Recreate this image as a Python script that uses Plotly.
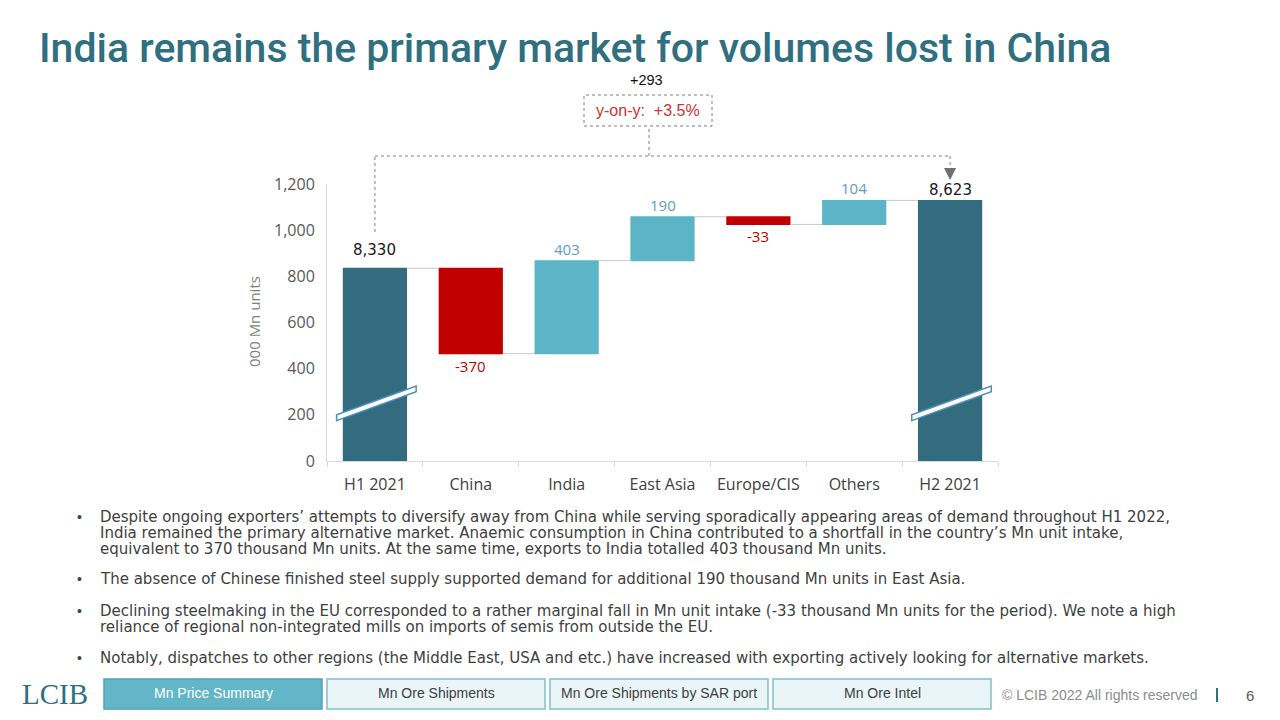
import plotly.graph_objects as go

# ---------------- data ----------------
categories = ["H1 2021", "China", "India", "East Asia", "Europe/CIS", "Others", "H2 2021"]
h1_total = 8330
h2_total = 8623
changes = [-370, 403, 190, -33, 104]   # China, India, East Asia, Europe/CIS, Others
axis_break = 7495                       # value hidden by the broken axis
yoy_change = "+293"
yoy_pct = "+3.5%"
y_ticks = [0, 200, 400, 600, 800, 1000, 1200]

bullets = [
    ["Despite ongoing exporters’ attempts to diversify away from China while serving sporadically appearing areas of demand throughout H1 2022,",
     "India remained the primary alternative market. Anaemic consumption in China contributed to a shortfall in the country’s Mn unit intake,",
     "equivalent to 370 thousand Mn units. At the same time, exports to India totalled 403 thousand Mn units."],
    ["The absence of Chinese finished steel supply supported demand for additional 190 thousand Mn units in East Asia."],
    ["Declining steelmaking in the EU corresponded to a rather marginal fall in Mn unit intake (-33 thousand Mn units for the period). We note a high",
     "reliance of regional non-integrated mills on imports of semis from outside the EU."],
    ["Notably, dispatches to other regions (the Middle East, USA and etc.) have increased with exporting actively looking for alternative markets."],
]
nav_buttons = ["Mn Price Summary", "Mn Ore Shipments", "Mn Ore Shipments by SAR port", "Mn Ore Intel"]

# ---------------- styles ----------------
W, H = 1280, 720
OFF = 8   # page margin of the html body
DARK = "#336C7E"
RED = "#C00000"
LIGHT = "#5BB5C6"
LABEL_BLUE = "#5E9CC4"
GREY = "#595959"
TEAL_TITLE = "#2F6F80"
FONT = "Open Sans"

def px(xp):
    return (xp - OFF) / W

def py(yp):
    return 1 - (yp - OFF) / H

start_plot = h1_total - axis_break
values = [start_plot] + changes + [0]
measures = ["absolute"] + ["relative"] * len(changes) + ["total"]

fig = go.Figure(go.Waterfall(
    x=categories, y=values, measure=measures,
    width=[0.67] * len(categories),
    increasing=dict(marker=dict(color=LIGHT)),
    decreasing=dict(marker=dict(color=RED)),
    totals=dict(marker=dict(color=DARK)),
    connector=dict(line=dict(color="#C8C8C8", width=1)),
    hoverinfo="skip", showlegend=False,
))

annotations = []
shapes = []

def ann(**kw):
    kw.setdefault("showarrow", False)
    kw.setdefault("xanchor", "center")
    kw.setdefault("yanchor", "middle")
    annotations.append(kw)

# value labels computed from the data
cum = start_plot
ann(x=0, y=cum, xref="x", yref="y", text=f"{h1_total:,}", yanchor="bottom", yshift=7,
    font=dict(family="DejaVu Sans", size=15, color="#1A1A1A"))
for i, c in enumerate(changes, start=1):
    top = cum + max(c, 0)
    bot = cum + min(c, 0)
    if c >= 0:
        ann(x=i, y=top, xref="x", yref="y", text=f"{c}", yanchor="bottom", yshift=0,
            font=dict(family=FONT, size=15, color=LABEL_BLUE))
    else:
        ann(x=i, y=bot, xref="x", yref="y", text=f"{c}", yanchor="top", yshift=0,
            font=dict(family=FONT, size=15, color=RED))
    cum += c
ann(x=6, y=cum, xref="x", yref="y", text=f"{h2_total:,}", yanchor="bottom", yshift=-1,
    font=dict(family="DejaVu Sans", size=15, color="#1A1A1A"))

# axis-break marks on the total bars
for idx in (0, 6):
    shapes.append(dict(type="path", xref="x", yref="y",
                       path=f"M {idx-0.40},{175} L {idx+0.43},{300} L {idx+0.43},{325} L {idx-0.40},{200} Z",
                       fillcolor="white", line=dict(color="#4F90B8", width=1.5), layer="above"))

# bracket with dotted lines
dot = dict(color="#7F7F7F", width=1, dash="dot")
shapes += [
    dict(type="line", xref="x", yref="paper", x0=0, x1=0, y0=py(232), y1=py(156), line=dot),
    dict(type="line", xref="x", yref="paper", x0=0, x1=6, y0=py(156), y1=py(156), line=dot),
    dict(type="line", xref="x", yref="paper", x0=6, x1=6, y0=py(156), y1=py(168), line=dot),
    dict(type="line", xref="paper", yref="paper", x0=px(649), x1=px(649), y0=py(156), y1=py(126), line=dot),
    dict(type="rect", xref="paper", yref="paper", x0=px(584), x1=px(712), y0=py(126), y1=py(95),
         line=dot, fillcolor="white"),
]
annotations.append(dict(x=6, y=py(180), xref="x", yref="paper", ax=0, ay=-12, text="", showarrow=True,
                        arrowhead=2, arrowsize=1.6, arrowwidth=1.5, arrowcolor="#6F6F6F"))
ann(x=px(648), y=py(111), xref="paper", yref="paper", text=f"y-on-y:  {yoy_pct}",
    font=dict(family="Liberation Sans", size=16, color="#D0312D"))
ann(x=px(646), y=py(80), xref="paper", yref="paper", text=yoy_change,
    font=dict(family="Liberation Sans", size=14.5, color="#111111"))

# title
ann(x=px(37), y=py(48), xref="paper", yref="paper", xanchor="left",
    text="India remains the primary market for volumes lost in China",
    font=dict(family="Roboto", size=41, color=TEAL_TITLE, weight=500))

# y-axis title
ann(x=px(254), y=py(322), xref="paper", yref="paper", textangle=-90,
    text="000 Mn units", font=dict(family=FONT, size=15, color="#7F7F7F"))

# bullets
line_y = [[517, 533, 549], [579], [611, 627], [658]]
for lines, ys in zip(bullets, line_y):
    ann(x=px(75), y=py(ys[0]), xref="paper", yref="paper", xanchor="left",
        text="•", font=dict(family="Liberation Sans", size=14, color="#404040"))
    for t, yy in zip(lines, ys):
        ann(x=px(98), y=py(yy), xref="paper", yref="paper", xanchor="left",
            text=t, font=dict(family="DejaVu Sans", size=15, color="#404040"))

# footer
ann(x=px(55), y=py(694), xref="paper", yref="paper", text="LCIB",
    font=dict(family="Liberation Serif", size=29, color="#2F6F80"))
btn_x = [(104, 322), (327, 545), (550, 768), (773, 991)]
for i, (label, (x0, x1)) in enumerate(zip(nav_buttons, btn_x)):
    active = i == 0
    shapes.append(dict(type="rect", xref="paper", yref="paper", x0=px(x0), x1=px(x1), y0=py(709), y1=py(679),
                       fillcolor="#62B6C7" if active else "#E9F5F7",
                       line=dict(color="#4FA3B6" if active else "#7DBFCD", width=1.5)))
    ann(x=px((x0 + x1) / 2), y=py(693), xref="paper", yref="paper", text=label,
        font=dict(family="Liberation Sans Narrow, Liberation Sans", size=14,
                  color="white" if active else "#404040"))
ann(x=px(1200), y=py(695), xref="paper", yref="paper", xanchor="right",
    text="© LCIB 2022 All rights reserved", font=dict(family="Liberation Sans", size=14, color="#8C8C8C"))
shapes.append(dict(type="line", xref="paper", yref="paper", x0=px(1217), x1=px(1217), y0=py(688), y1=py(702),
                   line=dict(color="#2F6F80", width=2)))
ann(x=px(1250), y=py(695), xref="paper", yref="paper", text="6",
    font=dict(family="Liberation Sans", size=15, color="#595959"))

fig.update_layout(
    width=W, height=H, margin=dict(l=0, r=0, t=0, b=0, autoexpand=False),
    paper_bgcolor="white", plot_bgcolor="white",
    xaxis=dict(domain=[px(327), px(998)], showline=True, linecolor="#D9D9D9", linewidth=1,
               ticks="outside", tickson="boundaries", ticklen=5, tickcolor="#D9D9D9", automargin=False,
               ticklabelstandoff=9,
               tickfont=dict(family=FONT, size=16, color="#404040"), showgrid=False, fixedrange=True),
    yaxis=dict(domain=[py(461), py(184)], range=[0, 1200], tickvals=y_ticks, tickformat=",",
               showline=True, linecolor="#D9D9D9", linewidth=1, showgrid=False, zeroline=False,
               automargin=False,
               ticklabelstandoff=8, tickfont=dict(family=FONT, size=16, color=GREY)),
    shapes=shapes, annotations=annotations,
)

fig.write_html("out.html")
